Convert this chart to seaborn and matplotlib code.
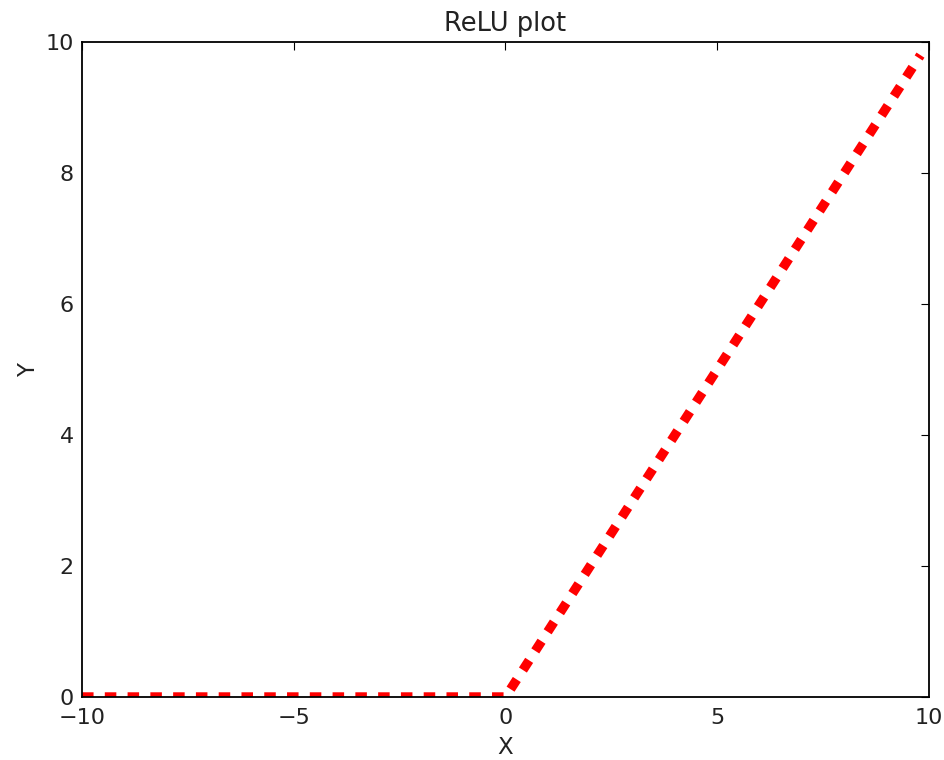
import matplotlib
matplotlib.use("Agg")
import matplotlib.pyplot as plt
import seaborn as sns
import pandas as pd

# Data (ReLU: y = max(0, x))
x_vals = [-10.0, -5.0, 0.0, 5.0, 9.8]
y_vals = [0.0, 0.0, 0.0, 5.0, 9.8]
x_ticks = [-10, -5, 0, 5, 10]
y_ticks = [0, 2, 4, 6, 8, 10]
x_tick_labels = ["\u221210", "\u22125", "0", "5", "10"]
y_tick_labels = ["0", "2", "4", "6", "8", "10"]

df = pd.DataFrame({"X": x_vals, "Y": y_vals})

sns.set_theme(style="white")
plt.rcParams["font.family"] = ["DejaVu Sans"]
plt.rcParams["lines.scale_dashes"] = False

fig = plt.figure(figsize=(9.45, 7.6), dpi=100)
ax = fig.add_axes([0.0868, 0.0829, 0.8962, 0.8618])

sns.lineplot(data=df, x="X", y="Y", ax=ax, color="#ff0000",
             linewidth=6.8, estimator=None, sort=False)
line = ax.get_lines()[0]
line.set_dashes((8.3, 8.1))
line.set_dash_capstyle("butt")

ax.set_xlim(-10, 10)
ax.set_ylim(0, 10)
ax.set_xticks(x_ticks)
ax.set_xticklabels(x_tick_labels)
ax.set_yticks(y_ticks)
ax.set_yticklabels(y_tick_labels)

ax.tick_params(axis="x", which="major", pad=8)
ax.tick_params(axis="y", which="major", pad=6)
ax.tick_params(axis="both", which="major", direction="in", length=6,
               width=0.8, color="black", labelsize=16, labelcolor="#222222",
               top=True, right=True)
for s in ax.spines.values():
    s.set_visible(True)
    s.set_color("black")
    s.set_linewidth(1.3)
    s.set_zorder(3)

ax.set_title("ReLU plot", fontsize=18.5, color="#222222", pad=8)
ax.set_xlabel("X", fontsize=16.5, color="#222222", labelpad=6)
ax.set_ylabel("Y", fontsize=16.5, color="#222222", labelpad=4)
ax.grid(False)

fig.savefig("out.png", dpi=100, facecolor="white")
